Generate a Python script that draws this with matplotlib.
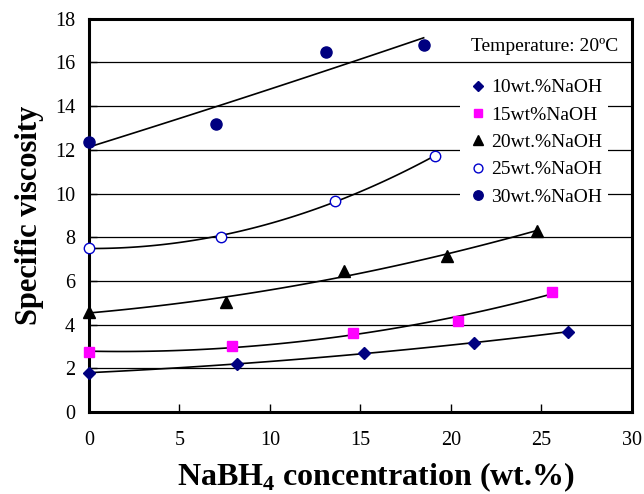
import numpy as np
import matplotlib.pyplot as plt

plt.rcParams['font.family'] = ['Liberation Serif', 'DejaVu Serif']
plt.rcParams['mathtext.fontset'] = 'custom'
plt.rcParams['mathtext.rm'] = 'Liberation Serif'
plt.rcParams['mathtext.bf'] = 'Liberation Serif:bold'

# NaBH4 concentration (wt.%) and specific viscosity for each NaOH level
x10 = [0, 8.2, 15.2, 21.3, 26.5]
y10 = [1.8, 2.2, 2.68, 3.17, 3.68]
x15 = [0, 7.9, 14.6, 20.4, 25.6]
y15 = [2.75, 3.0, 3.62, 4.18, 5.5]
x20 = [0, 7.6, 14.1, 19.8, 24.75]
y20 = [4.6, 5.04, 6.46, 7.15, 8.3]
x25 = [0, 7.3, 13.6, 19.1]
y25 = [7.5, 8.03, 9.68, 11.7]
x30 = [0, 7.0, 13.1, 18.5]
y30 = [12.35, 13.2, 16.5, 16.8]

labels = ['10wt.%NaOH', '15wt%NaOH', '20wt.%NaOH', '25wt.%NaOH', '30wt.%NaOH']

fig = plt.figure(figsize=(6.44, 4.94), dpi=100)
ax = fig.add_axes([0.138, 0.166, 0.843, 0.796])

navy = '#000080'
series = [
    (x10, y10, dict(marker='D', ms=6, color=navy, mec=navy)),
    (x15, y15, dict(marker='s', ms=7.5, color='#FF00FF', mec='#FF00FF')),
    (x20, y20, dict(marker='^', ms=8, color='black', mec='black')),
    (x25, y25, dict(marker='o', ms=7.5, mfc='white', mec='#0000CC', mew=1)),
    (x30, y30, dict(marker='o', ms=8, color=navy, mec=navy)),
]

for (xs, ys, style), lab in zip(series, labels):
    # second-order polynomial trendline over the data range
    coef = np.polyfit(xs, ys, 2)
    xf = np.linspace(0, max(xs), 100)
    ax.plot(xf, np.polyval(coef, xf), color='black', lw=1.2, zorder=2)
    ax.plot(xs, ys, ls='none', label=lab, zorder=3, clip_on=False, **style)

ax.set_xlim(0, 30)
ax.set_ylim(0, 18)
ax.set_xticks(range(0, 31, 5))
ax.set_yticks(range(0, 19, 2))
ax.yaxis.grid(True, color='black', lw=0.9)
ax.set_axisbelow(True)
for s in ax.spines.values():
    s.set_linewidth(2.2)
ax.tick_params(direction='in', length=6, width=1, labelsize=14.5)
ax.tick_params(axis='x', pad=14)
ax.tick_params(axis='y', pad=10)

ax.set_xlabel(r'NaBH$_\mathbf{4}$ concentration (wt.%)', fontsize=23, fontweight='bold')
ax.xaxis.set_label_coords(0.529, -0.124)
ax.set_ylabel('Specific viscosity', fontsize=22, fontweight='bold', labelpad=8)

ax.text(25.2, 16.75, 'Temperature: 20ºC', fontsize=14, ha='center', va='center', zorder=5)
leg = ax.legend(loc='upper right', bbox_to_anchor=(0.975, 0.887), fontsize=14,
                frameon=True, facecolor='white', edgecolor='none', framealpha=1,
                handletextpad=0.1, labelspacing=0.5, borderpad=0.3, handlelength=1.2,
                markerscale=0.85)
leg.set_zorder(5)

fig.savefig('out.png', dpi=100)
